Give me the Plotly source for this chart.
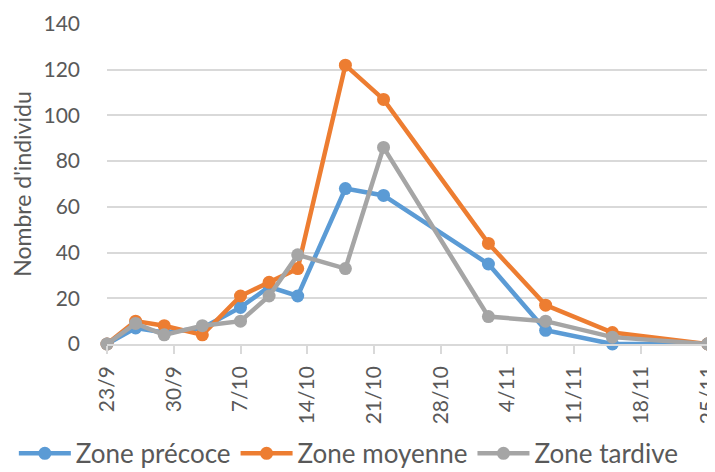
import plotly.graph_objects as go

dates = ["2019-09-23", "2019-09-26", "2019-09-29", "2019-10-03", "2019-10-07",
         "2019-10-10", "2019-10-13", "2019-10-18", "2019-10-22", "2019-11-02",
         "2019-11-08", "2019-11-15", "2019-11-25"]
precoce = [0, 7, 5, 7, 16, 25, 21, 68, 65, 35, 6, 0, 0]
moyenne = [0, 10, 8, 4, 21, 27, 33, 122, 107, 44, 17, 5, 0]
tardive = [0, 9, 4, 8, 10, 21, 39, 33, 86, 12, 10, 3, 0]

tick_vals = ["2019-09-23", "2019-09-30", "2019-10-07", "2019-10-14", "2019-10-21",
             "2019-10-28", "2019-11-04", "2019-11-11", "2019-11-18", "2019-11-25"]
tick_text = ["23/9", "30/9", "7/10", "14/10", "21/10", "28/10", "4/11", "11/11", "18/11", "25/11"]

series = [("Zone précoce", precoce, "#5B9BD5"),
          ("Zone moyenne", moyenne, "#ED7D31"),
          ("Zone tardive", tardive, "#A5A5A5")]

fig = go.Figure()
for name, vals, color in series:
    fig.add_trace(go.Scatter(
        x=dates, y=vals, name=name, mode="lines+markers",
        line=dict(color=color, width=4.5),
        marker=dict(color=color, size=13),
        cliponaxis=False,
    ))

font_family = "Lato, Open Sans, sans-serif"
fig.update_layout(
    width=707, height=464,
    margin=dict(l=99, r=7, t=16, b=128, autoexpand=False),
    plot_bgcolor="white", paper_bgcolor="white",
    font=dict(family=font_family, color="#595959"),
    showlegend=True,
    legend=dict(orientation="h", x=-0.155, xanchor="left", y=-0.342, yanchor="middle",
                font=dict(size=26, color="#595959"), itemwidth=52,
                tracegroupgap=0, bgcolor="rgba(0,0,0,0)"),
    xaxis=dict(
        type="date", range=["2019-09-23", "2019-11-25 00:40"],
        tickvals=tick_vals, ticktext=tick_text, tickangle=-90,
        tickfont=dict(size=21, color="#595959"),
        showgrid=False, showline=True, linecolor="#D9D9D9", linewidth=1.5,
        ticks="outside", ticklen=8, tickcolor="#D9D9D9", tickwidth=1.5,
        zeroline=False, automargin=False, ticklabelstandoff=4,
        ticklabeloverflow="allow",
    ),
    yaxis=dict(
        range=[0, 140], dtick=20,
        tickfont=dict(size=21, color="#595959"),
        showgrid=True, gridcolor="#D9D9D9", gridwidth=1.5,
        zeroline=False, showline=False, ticks="",
        ticklabelstandoff=26, automargin=False,
        title=dict(text="Nombre d'individu", font=dict(size=23, color="#595959"), standoff=13),
    ),
)

fig.write_html("out.html")
